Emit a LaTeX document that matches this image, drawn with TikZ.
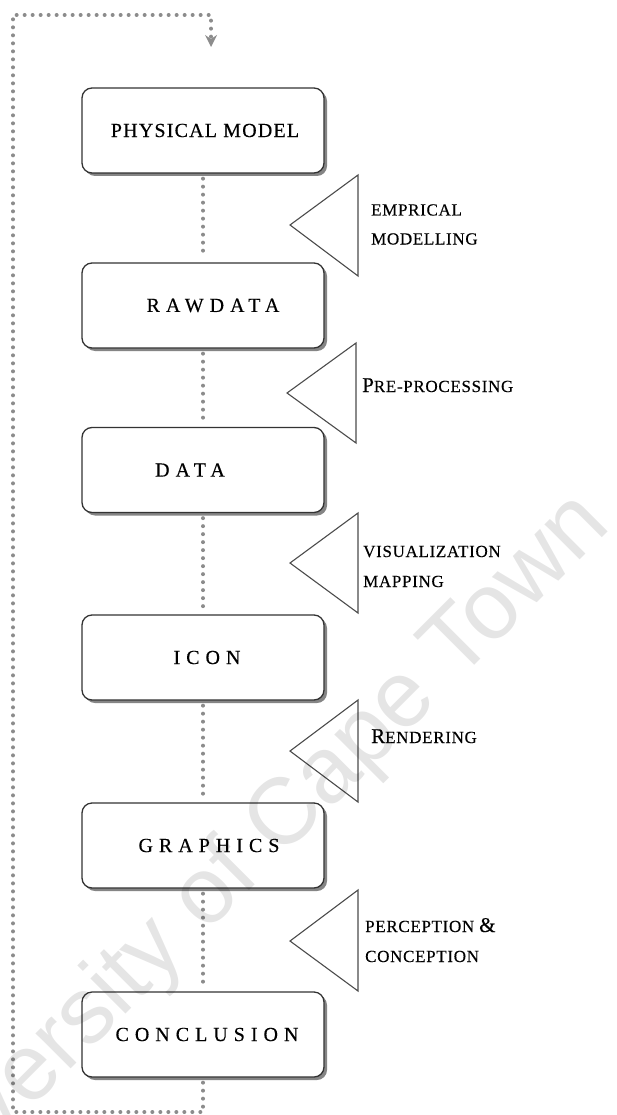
\documentclass[tikz,border=0pt]{standalone}
\usepackage{fontspec}
\setmainfont{Liberation Serif}
\newfontfamily\titlefont[LetterSpace=6,FakeBold=0.3]{Liberation Serif}
\newfontfamily\spacedfont[LetterSpace=30,FakeBold=0.3]{Liberation Serif}
\newfontfamily\labelfont[LetterSpace=4,FakeBold=0.3]{Liberation Serif}
\newfontfamily\wmfont{Liberation Sans}
\usetikzlibrary{shadows,arrows.meta}

% larger initial letter inside the small-caps style labels
\newcommand\capinit[1]{{\fontsize{21}{24}\selectfont #1}}

\begin{document}
\begin{tikzpicture}[
  x=1pt, y=-1pt,
  stage/.style={draw=black!80, line width=1.3pt, rounded corners=10pt,
    fill=white, minimum width=242pt, minimum height=85pt, inner sep=0pt,
    text=black,
    drop shadow={shadow xshift=3pt, shadow yshift=-3pt, fill=black!60,
      opacity=0.8}},
  spaced/.style={font=\spacedfont\fontsize{20}{24}\selectfont},
  titled/.style={font=\titlefont\fontsize{20}{24}\selectfont},
  link/.style={draw=black!45, line width=4pt, line cap=round,
    dash pattern=on 0pt off 8pt},
  wedge/.style={draw=black!70, line width=1.1pt, fill=white, line join=miter},
  lbl/.style={font=\labelfont\fontsize{17}{20}\selectfont, inner sep=0pt,
    anchor=base west, text=black},
  watermark/.style={font=\wmfont\fontsize{94}{100}\selectfont, inner sep=0pt,
    text=black, text opacity=0.1}
]
\useasboundingbox (0,0) rectangle (616,1115);

% process stages
\node[stage, titled] (phys) at (203,130.5) {\hspace*{4pt}PHYSICAL MODEL};
\node[stage, spaced] (raw)  at (203,305.5) {\hspace*{20pt}RAWDATA};
\node[stage, spaced] (data) at (203,470)   {\hspace*{-26pt}DATA};
\node[stage, spaced] (icon) at (203,657.5) {\hspace*{8pt}ICON};
\node[stage, spaced] (gfx)  at (203,845.5) {\hspace*{12pt}GRAPHICS};
\node[stage, spaced] (concl) at (203,1034.5) {\hspace*{8pt}CONCLUSION};

% dotted flow between stages
\draw[link, shorten <=5pt, shorten >=5pt] (phys) -- (raw);
\draw[link, shorten <=5pt, shorten >=5pt] (raw) -- (data);
\draw[link, shorten <=5pt, shorten >=5pt] (data) -- (icon);
\draw[link, shorten <=5pt, shorten >=5pt] (icon) -- (gfx);
\draw[link, shorten <=5pt, shorten >=5pt] (gfx) -- (concl);

% feedback loop back to the top
\coordinate (c1) at (203,1112);
\coordinate (c2) at (13,1112);
\coordinate (c3) at (13,15);
\coordinate (c4) at (211,15);
\coordinate (tip) at (211,47);
\draw[link, shorten <=5pt,
  -{Stealth[length=12pt, width=12pt, inset=4pt, line width=0pt]}]
  (concl) -- (c1) -- (c2) -- (c3) -- (c4) -- (tip);

% transformation wedges
\draw[wedge] (290,225) -- (358,175) -- (358,276) -- cycle;
\draw[wedge] (287,393) -- (356,343) -- (356,443) -- cycle;
\draw[wedge] (290,563) -- (358,513) -- (358,613) -- cycle;
\draw[wedge] (290,751) -- (358,700) -- (358,802) -- cycle;
\draw[wedge] (290,941) -- (358,890) -- (358,991) -- cycle;

% transformation labels
\node[lbl] (emp1) at (371,215.5) {EMPRICAL};
\node[lbl] (emp2) at (371,244.5) {MODELLING};
\node[lbl] (pre)  at (362,392) {\capinit{P}RE-PROCESSING};
\node[lbl] (vis1) at (363,557) {VISUALIZATION};
\node[lbl] (vis2) at (363,587) {MAPPING};
\node[lbl] (ren)  at (371,743) {\capinit{R}ENDERING};
\node[lbl] (per1) at (365,932) {PERCEPTION \capinit{\&}};
\node[lbl] (per2) at (365,962) {CONCEPTION};

% faint diagonal watermark
\begin{scope}
  \clip (0,0) rectangle (616,1115);
  \node[watermark, rotate=45, anchor=base west] (wm) at (-104,1244)
    {University of Cape Town};
\end{scope}
\end{tikzpicture}
\end{document}
